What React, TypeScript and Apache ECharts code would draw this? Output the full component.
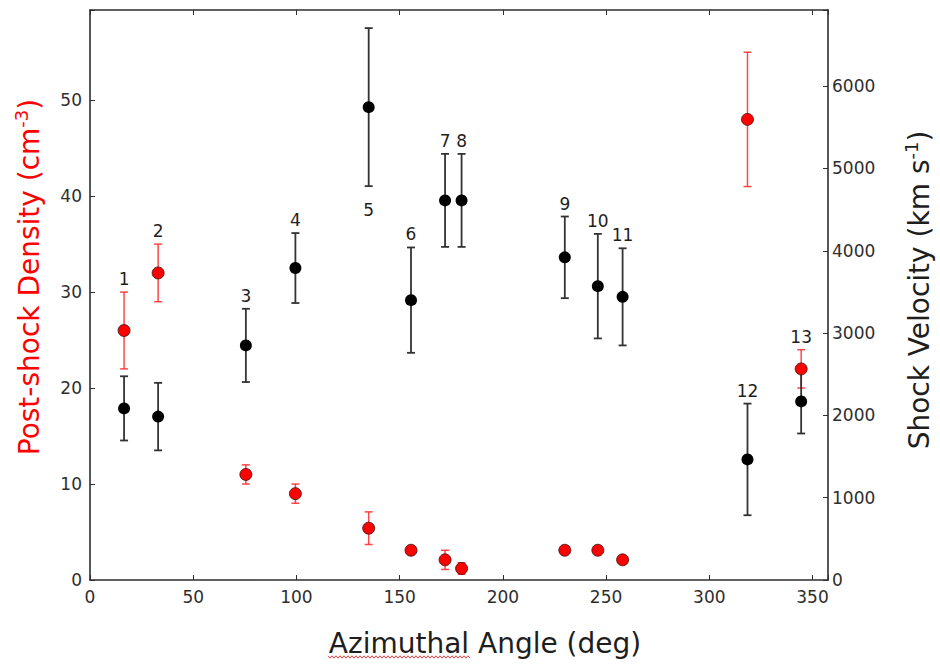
import React, { useEffect, useRef } from 'react';
import * as echarts from 'echarts';

// Region numbers, azimuthal angles (deg)
const regionLabels = ['1', '2', '3', '4', '5', '6', '7', '8', '9', '10', '11', '12', '13'];
const angles = [16.5, 33, 75.5, 99.5, 135, 155.5, 172, 180, 230, 246, 258, 318.5, 344.5];
// Post-shock density (cm^-3), left axis
const density = [26, 32, 11, 9, 5.4, 3.1, 2.1, 1.2, 3.1, 3.1, 2.1, 48, 22];
const densityErr = [4, 3, 1, 1, 1.7, 0.3, 1, 0.6, 0.3, 0.3, 0.3, 7, 2];
// Shock velocity (km s^-1), right axis
const velocity = [2085, 1985, 2850, 3790, 5745, 3400, 4612, 4612, 3920, 3570, 3440, 1465, 2170];
const velocityErr = [390, 410, 445, 425, 960, 640, 565, 565, 496, 635, 590, 678, 390];
// Where each region number sits: above the density bar, above the velocity bar, or below the velocity bar
const labelAnchor = ['density', 'density', 'velocity', 'velocity', 'velocityBelow', 'velocity', 'velocity', 'velocity', 'velocity', 'velocity', 'velocity', 'velocity', 'density'];

const X_MIN = 0, X_MAX = 357.5, X_STEP = 50;
const YL_MIN = 0, YL_MAX = 59.4, YL_STEP = 10;
const YR_MIN = 0, YR_MAX = 6925, YR_STEP = 1000;

const TICK_FONT = 'DejaVu Sans';
const TITLE_FONT = 'DejaVu Sans';
const AXIS_COLOR = '#2e2e2e';

function errorBarSeries(name: string, yAxisIndex: number, vals: number[], errs: number[], color: string, width: number) {
  return {
    name,
    type: 'custom',
    xAxisIndex: 0,
    yAxisIndex,
    silent: true,
    data: angles.map((a, i) => [a, vals[i] - errs[i], vals[i] + errs[i]]),
    encode: { x: 0, y: [1, 2] },
    renderItem: (params: any, api: any) => {
      const x = api.value(0);
      const lo = api.coord([x, api.value(1)]);
      const hi = api.coord([x, api.value(2)]);
      const cap = 4;
      const style = { stroke: color, lineWidth: width };
      return {
        type: 'group',
        children: [
          { type: 'line', shape: { x1: hi[0], y1: hi[1], x2: lo[0], y2: lo[1] }, style },
          { type: 'line', shape: { x1: hi[0] - cap, y1: hi[1], x2: hi[0] + cap, y2: hi[1] }, style },
          { type: 'line', shape: { x1: lo[0] - cap, y1: lo[1], x2: lo[0] + cap, y2: lo[1] }, style },
        ],
      };
    },
  };
}

function axisBase() {
  return {
    axisLine: { show: true, onZero: false, lineStyle: { color: AXIS_COLOR, width: 1.6 } },
    axisTick: { show: true, inside: true, length: 5, lineStyle: { color: AXIS_COLOR, width: 1 } },
    splitLine: { show: false },
  };
}

function fmt(step: number) {
  return (v: number) => (Math.abs(v / step - Math.round(v / step)) < 1e-9 ? String(v) : '');
}

export default function App() {
  const ref = useRef<HTMLDivElement>(null);

  useEffect(() => {
    if (!ref.current) return;
    const chart = echarts.init(ref.current, undefined, { renderer: 'svg' });

    // wavy spell-check underline under "Azimuthal"
    const wave: number[][] = [];
    for (let x = 328, k = 0; x <= 470; x += 2, k++) wave.push([x, 657 + (k % 2 === 0 ? -1.2 : 1.2)]);

    const option: any = {
      animation: false,
      backgroundColor: '#ffffff',
      grid: { left: 90, right: 112, top: 10, bottom: 84, containLabel: false },
      xAxis: [
        {
          type: 'value', min: X_MIN, max: X_MAX, interval: X_STEP, position: 'bottom',
          ...axisBase(),
          axisLabel: { fontFamily: TICK_FONT, fontSize: 17, color: AXIS_COLOR, margin: 8, formatter: fmt(X_STEP) },
        },
        {
          type: 'value', min: X_MIN, max: X_MAX, interval: X_STEP, position: 'top',
          ...axisBase(),
          axisLabel: { show: false },
        },
      ],
      yAxis: [
        {
          type: 'value', min: YL_MIN, max: YL_MAX, interval: YL_STEP, position: 'left',
          ...axisBase(),
          axisLabel: { fontFamily: TICK_FONT, fontSize: 17, color: AXIS_COLOR, margin: 8, formatter: fmt(YL_STEP) },
        },
        {
          type: 'value', min: YR_MIN, max: YR_MAX, interval: YR_STEP, position: 'right',
          ...axisBase(),
          axisLabel: { fontFamily: TICK_FONT, fontSize: 17, color: AXIS_COLOR, margin: 4, formatter: fmt(YR_STEP) },
        },
      ],
      series: [
        errorBarSeries('density-err', 0, density, densityErr, 'rgba(255,40,40,0.85)', 1.5),
        {
          name: 'density', type: 'scatter', xAxisIndex: 0, yAxisIndex: 0, silent: true,
          symbol: 'circle', symbolSize: 12,
          itemStyle: { color: '#ff0000', borderColor: '#3a1010', borderWidth: 0.8, opacity: 1 },
          data: angles.map((a, i) => [a, density[i]]),
        },
        errorBarSeries('velocity-err', 1, velocity, velocityErr, '#333333', 1.8),
        {
          name: 'velocity', type: 'scatter', xAxisIndex: 0, yAxisIndex: 1, silent: true,
          symbol: 'circle', symbolSize: 12,
          itemStyle: { color: '#000000', opacity: 1 },
          data: angles.map((a, i) => [a, velocity[i]]),
        },
      ],
      graphic: [
        {
          id: 'ytitle-left', type: 'text', x: 29, y: 277, rotation: Math.PI / 2,
          style: {
            text: 'Post-shock Density (cm{sup|-3})',
            fill: '#ff0000', fontFamily: TITLE_FONT, fontSize: 28,
            align: 'center', verticalAlign: 'middle', lineHeight: 34,
            rich: { sup: { fontSize: 18, fill: '#ff0000', fontFamily: TITLE_FONT, verticalAlign: 'top', lineHeight: 18 } },
          },
        },
        {
          id: 'ytitle-right', type: 'text', x: 919, y: 290, rotation: Math.PI / 2,
          style: {
            text: 'Shock Velocity (km s{sup|-1})',
            fill: '#1e1e1e', fontFamily: TITLE_FONT, fontSize: 28,
            align: 'center', verticalAlign: 'middle', lineHeight: 34,
            rich: { sup: { fontSize: 18, fill: '#1e1e1e', fontFamily: TITLE_FONT, verticalAlign: 'top', lineHeight: 18 } },
          },
        },
        {
          id: 'xtitle', type: 'text', x: 485, y: 643,
          style: {
            text: 'Azimuthal Angle (deg)', fill: '#1e1e1e', fontFamily: TITLE_FONT, fontSize: 28,
            align: 'center', verticalAlign: 'middle',
          },
        },
        {
          id: 'squiggle', type: 'polyline', shape: { points: wave },
          style: { stroke: '#e03030', lineWidth: 0.9, fill: 'none' },
        },
      ],
    };
    chart.setOption(option);

    // region number labels positioned through the axes' own scales
    const labelEls = regionLabels.map((t, i) => {
      const redTop = chart.convertToPixel({ xAxisIndex: 0, yAxisIndex: 0 } as any, [angles[i], density[i] + densityErr[i]]) as number[];
      const blkTop = chart.convertToPixel({ xAxisIndex: 0, yAxisIndex: 1 } as any, [angles[i], velocity[i] + velocityErr[i]]) as number[];
      const blkBot = chart.convertToPixel({ xAxisIndex: 0, yAxisIndex: 1 } as any, [angles[i], velocity[i] - velocityErr[i]]) as number[];
      const anchor = labelAnchor[i];
      const y = anchor === 'velocityBelow' ? blkBot[1] + 24 : (anchor === 'density' ? redTop[1] : blkTop[1]) - 13;
      return {
        id: 'lab' + i, type: 'text', x: blkTop[0], y,
        style: { text: t, fill: '#1e1e1e', fontFamily: TICK_FONT, fontSize: 17, align: 'center', verticalAlign: 'middle' },
      };
    });
    chart.setOption({ graphic: labelEls });

    return () => chart.dispose();
  }, []);

  return <div ref={ref} style={{ position: 'absolute', left: 0, top: 0, width: 940, height: 664 }} />;
}
